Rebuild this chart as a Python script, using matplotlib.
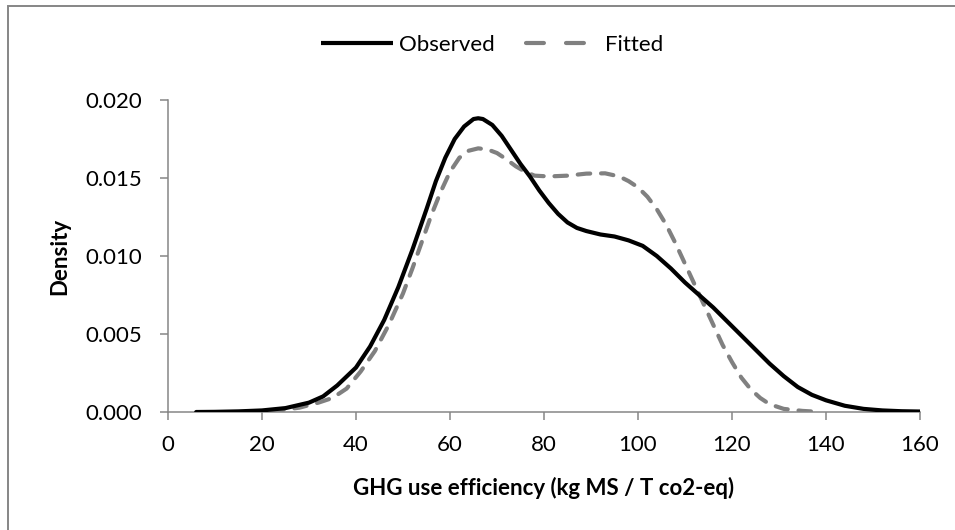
import matplotlib
matplotlib.use("Agg")
import matplotlib.pyplot as plt
from matplotlib.lines import Line2D
from matplotlib.patches import Rectangle

plt.rcParams["font.family"] = ["Lato", "DejaVu Sans"]

# --- Data ----------------------------------------------------------------
obs_x = [6, 10, 15, 20, 25, 30, 33, 36, 40, 43, 46, 49, 52, 55, 57, 59, 61,
         63, 65, 66, 67, 69, 71, 73, 75, 77, 79, 81, 83, 85, 87, 89, 92, 95,
         98, 101, 104, 107, 110, 113, 116, 119, 122, 125, 128, 131, 134, 137,
         140, 144, 148, 152, 156, 160]
obs_y = [0.00000, 0.00001, 0.00004, 0.00010, 0.00025, 0.00060, 0.00100,
         0.00170, 0.00285, 0.00420, 0.00590, 0.00800, 0.01040, 0.01300,
         0.01480, 0.01630, 0.01750, 0.01830, 0.01878, 0.01883, 0.01878,
         0.01840, 0.01770, 0.01680, 0.01590, 0.01510, 0.01420, 0.01340,
         0.01270, 0.01215, 0.01180, 0.01160, 0.01138, 0.01125, 0.01100,
         0.01065, 0.01000, 0.00920, 0.00830, 0.00750, 0.00670, 0.00580,
         0.00490, 0.00400, 0.00310, 0.00230, 0.00160, 0.00110, 0.00075,
         0.00040, 0.00020, 0.00010, 0.00005, 0.00003]

fit_x = [17, 20, 24, 28, 32, 35, 38, 41, 44, 47, 50, 52, 54, 56, 58, 60, 62,
         64, 66, 68, 70, 72, 74, 76, 78, 81, 85, 89, 93, 96, 98, 100, 102,
         104, 106, 108, 110, 112, 114, 116, 118, 120, 122, 124, 126, 128,
         131, 135, 139]
fit_y = [0.00000, 0.00004, 0.00012, 0.00028, 0.00060, 0.00090, 0.00150,
         0.00260, 0.00390, 0.00560, 0.00760, 0.00920, 0.01090, 0.01260,
         0.01410, 0.01540, 0.01630, 0.01675, 0.01690, 0.01683, 0.01660,
         0.01620, 0.01575, 0.01540, 0.01515, 0.01510, 0.01515, 0.01528,
         0.01530, 0.01510, 0.01480, 0.01440, 0.01380, 0.01300, 0.01200,
         0.01080, 0.00950, 0.00820, 0.00690, 0.00560, 0.00430, 0.00320,
         0.00220, 0.00145, 0.00090, 0.00050, 0.00020, 0.00007, 0.00000]

x_ticks = [0, 20, 40, 60, 80, 100, 120, 140, 160]
y_ticks = [0.000, 0.005, 0.010, 0.015, 0.020]

AXIS_GREY = "#868686"
FIT_GREY = "#808080"

fig = plt.figure(figsize=(9.55, 5.30), dpi=100)
ax = fig.add_axes([168 / 955, 1 - 412 / 530, 752 / 955, 312 / 530])

ax.plot(obs_x, obs_y, color="black", lw=3.0, solid_capstyle="round",
        zorder=3)
ax.plot(fit_x, fit_y, color=FIT_GREY, lw=3.0, dashes=(3.0, 2.6),
        dash_capstyle="round", zorder=2)

ax.set_xlim(0, 160)
ax.set_ylim(0, 0.020)
ax.set_xticks(x_ticks)
ax.set_yticks(y_ticks)
ax.set_yticklabels([f"{v:.3f}" for v in y_ticks])

for side in ("top", "right"):
    ax.spines[side].set_visible(False)
for side in ("left", "bottom"):
    ax.spines[side].set_color(AXIS_GREY)
    ax.spines[side].set_linewidth(1.1)

ax.tick_params(axis="both", direction="out", length=5.8, width=1.1,
               color=AXIS_GREY, labelsize=16, labelcolor="black")
ax.tick_params(axis="y", pad=13)
ax.tick_params(axis="x", pad=11)

ax.set_xlabel("GHG use efficiency (kg MS / T co2-eq)", fontsize=16,
              fontweight="bold")
ax.set_ylabel("Density", fontsize=16, fontweight="bold")
ax.xaxis.set_label_coords(0.5, -0.208)
ax.yaxis.set_label_coords(-0.130, 0.5)

# legend proxies: Excel draws the dashed key with two long dashes
handles = [
    Line2D([], [], color="black", lw=3.0, solid_capstyle="butt"),
    Line2D([], [], color=FIT_GREY, lw=3.0, dashes=(4.3, 5.3),
           dash_capstyle="round"),
]
ax.legend(handles, ["Observed", "Fitted"], loc="center",
          bbox_to_anchor=(492 / 955, 1 - 45 / 530),
          bbox_transform=fig.transFigure, ncol=2, frameon=False,
          fontsize=16, handlelength=3.25, handletextpad=0.3,
          columnspacing=1.4, borderpad=0)

# chart-area border (cut off on the right and bottom in the reference)
fig.patches.append(Rectangle((8 / 955, -0.2), 1.2, 1.2 - 6 / 530,
                             transform=fig.transFigure, fill=False,
                             edgecolor=AXIS_GREY, lw=1.4, clip_on=False))

fig.savefig("out.png", dpi=100)
